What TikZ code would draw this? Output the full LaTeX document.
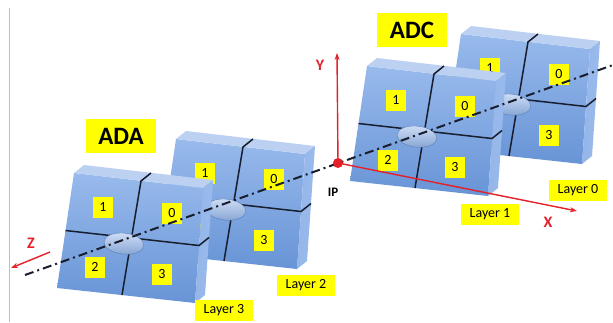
\documentclass[tikz,border=0pt]{standalone}
\usepackage{fontspec}
\setmainfont{Carlito}
\usetikzlibrary{arrows.meta}

\definecolor{facetop}{RGB}{152,186,236}
\definecolor{facebot}{RGB}{104,148,214}
\definecolor{lidblue}{RGB}{188,208,242}
\definecolor{sideblue}{RGB}{150,182,232}
\definecolor{tagyellow}{RGB}{255,255,0}
\definecolor{axisred}{RGB}{228,32,40}
\definecolor{seam}{RGB}{24,30,46}

\tikzset{
  digitbox/.style={fill=tagyellow, font=\fontsize{14}{14}\selectfont, minimum width=20pt, minimum height=21pt, inner sep=1pt},
  detlayer/.pic={
    \shade[top color=facetop, bottom color=facebot] (0,0) -- (129,15) -- (121,130) -- (-17,115) -- cycle;
    \fill[lidblue] (0,0) -- (129,15) -- (139,7) -- (10,-8) -- cycle;
    \shade[left color=sideblue, right color=facetop] (129,15) -- (139,7) -- (131,122) -- (121,130) -- cycle;
    \draw[seam, line width=1.5pt] (-8.5,57.5) -- (125,72.5) -- (135,64.5);
    \draw[seam, line width=1.5pt] (48,122) -- (67,8) -- (77,0);
    \shade[top color=lidblue!70!white, bottom color=facetop!90!black, draw=facebot!85!black, rotate=-6]
      (57,65) ellipse[x radius=20pt, y radius=10.5pt];
    \node[digitbox] (-n1) at (29,34) {1};
    \node[digitbox] (-n0) at (98,40) {0};
    \node[digitbox] (-n2) at (21,94) {2};
    \node[digitbox] (-n3) at (88,101) {3};
  }
}

\begin{document}
\begin{tikzpicture}[x=1pt, y=-1pt, >={Stealth[length=7pt, width=5pt]},
  tagbox/.style={fill=tagyellow, font=\fontsize{14}{14}\selectfont, minimum width=58pt, minimum height=21pt},
  titlebox/.style={fill=tagyellow, font=\fontsize{25}{25}\selectfont\bfseries, minimum width=70pt, minimum height=34pt},
  axislabel/.style={text=axisred, font=\fontsize{16}{16}\selectfont\bfseries},
  axis/.style={axisred, line width=1.4pt},
  beam/.style={seam, line width=2pt, dash pattern=on 9pt off 4pt on 2pt off 4pt}]
  \useasboundingbox (0,0) rectangle (613,322);
  \draw[gray!50, line width=0.8pt] (9,8) -- (9,322);

  \pic (L2) at (176,139) {detlayer};
  \pic (L3) at (74,173) {detlayer};
  \pic (L0) at (461,34) {detlayer};
  \pic (L1) at (367,66) {detlayer};

  \coordinate (ip) at (338,163);
  \coordinate (yend) at (337,53);
  \coordinate (xend) at (577,211);
  \coordinate (zstart) at (50,252);
  \coordinate (zend) at (11,268);
  \coordinate (beamL) at (25,275);
  \coordinate (beamR) at (613,65);

  \draw[axis, ->] (ip) -- (yend);
  \draw[axis, ->] (ip) -- (xend);
  \draw[axis, ->] (zstart) -- (zend);
  \draw[beam] (beamL) -- (beamR);
  \fill[axisred] (ip) circle[radius=5pt];

  \node[axislabel] (ylab) at (320,65) {Y};
  \node[axislabel] (xlab) at (548,222) {X};
  \node[axislabel] (zlab) at (31,243) {Z};
  \node[font=\fontsize{13}{13}\selectfont\bfseries] (iplab) at (333,192) {IP};

  \node[titlebox] (ada) at (121,136) {ADA};
  \node[titlebox] (adc) at (412,30) {ADC};
  \node[tagbox] (tag3) at (224,310) {Layer 3};
  \node[tagbox] (tag2) at (306,285) {Layer 2};
  \node[tagbox] (tag1) at (490,214) {Layer 1};
  \node[tagbox] (tag0) at (578,190) {Layer 0};
\end{tikzpicture}
\end{document}
